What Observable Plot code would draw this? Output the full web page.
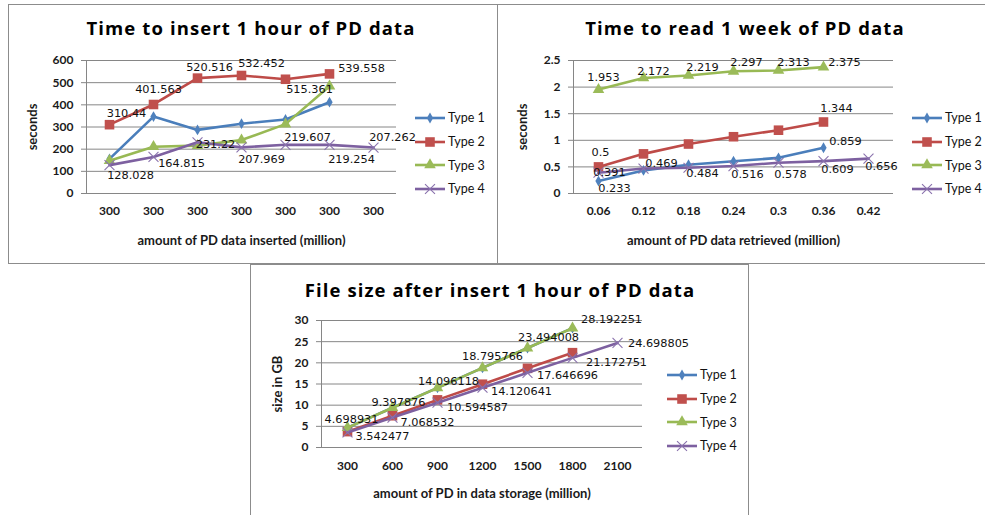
<!DOCTYPE html>
<html><head><meta charset="utf-8">
<script src="https://cdn.jsdelivr.net/npm/d3@7"></script>
<script src="https://cdn.jsdelivr.net/npm/@observablehq/plot@0.6"></script>
<style>
body{margin:0;background:#fff;}
#root{position:relative;width:985px;height:515px;overflow:hidden;background:#fff;font-family:Lato,sans-serif;}
.panel{position:absolute;border:1px solid #8c8c8c;box-sizing:border-box;}
.title{position:absolute;font-family:"Open Sans",sans-serif;font-weight:700;font-size:18.5px;letter-spacing:1.1px;color:#000;white-space:nowrap;transform:translateX(-50%);line-height:1;}
.plot{position:absolute;}
.plot svg{overflow:visible;}
.plot g[aria-label$="-axis label"]{font-size:13px;}
.legend{position:absolute;font-family:Lato,sans-serif;font-size:12.5px;color:#111;}
.legend .row{display:flex;align-items:center;height:23.7px;}
.legend svg{margin-right:3px;}
</style></head>
<body><div id="root"></div>
<script>
// ---------- data ----------
const seriesNames = ["Type 1", "Type 2", "Type 3", "Type 4"];

// Chart 1: Time to insert 1 hour of PD data
const insertX = ["300", "300", "300", "300", "300", "300", "300"];
const insertType1 = [156, 347, 287, 315, 334, 412];
const insertType2 = [310.44, 401.563, 520.516, 532.452, 515.361, 539.558];
const insertType3 = [148, 211, 216, 241, 313, 484];
const insertType4 = [128.028, 164.815, 231.22, 207.969, 219.607, 219.254, 207.262];
const insertYTicks = [0, 100, 200, 300, 400, 500, 600];

// Chart 2: Time to read 1 week of PD data
const readX = ["0.06", "0.12", "0.18", "0.24", "0.3", "0.36", "0.42"];
const readType1 = [0.233, 0.434, 0.54, 0.607, 0.67, 0.859];
const readType2 = [0.5, 0.745, 0.93, 1.067, 1.19, 1.344];
const readType3 = [1.953, 2.172, 2.219, 2.297, 2.313, 2.375];
const readType4 = [0.391, 0.469, 0.484, 0.516, 0.578, 0.609, 0.656];
const readYTicks = [0, 0.5, 1, 1.5, 2, 2.5];

// Chart 3: File size after insert 1 hour of PD data
const sizeX = ["300", "600", "900", "1200", "1500", "1800", "2100"];
const sizeType1 = [4.698931, 9.397876, 14.096118, 18.795766, 23.494008, 28.192251];
const sizeType2 = [3.75, 7.5, 11.25, 14.95, 18.7, 22.4];
const sizeType3 = [4.698931, 9.397876, 14.096118, 18.795766, 23.494008, 28.192251];
const sizeType4 = [3.542477, 7.068532, 10.594587, 14.120641, 17.646696, 21.172751, 24.698805];
const sizeYTicks = [0, 5, 10, 15, 20, 25, 30];

// which points carry a value label, and the nudge of each label from its point
const insertLabels = {
  "Type 2": {idx: [0,1,2,3,4,5], nudge: [[17,-11],[5,-15],[12,-11],[20,-12],[24,10],[32,-6]]},
  "Type 4": {idx: [0,1,2,3,4,5,6], nudge: [[21,10],[28,6],[18,2],[20,12],[22,-7],[22,14],[19,-10]]}
};
const readLabels = {
  "Type 1": {idx: [0,5], nudge: [[16,7],[22,-6]]},
  "Type 2": {idx: [0,5], nudge: [[2,-15],[13,-14]]},
  "Type 3": {idx: [0,1,2,3,4,5], nudge: [[5,-12],[10,-7],[14,-8],[13,-9],[15,-8],[21,-5]]},
  "Type 4": {idx: [0,1,2,3,4,5,6], nudge: [[11,0],[18,-5],[14,6],[14,8],[12,12],[14,8],[13,8]]}
};
const sizeLabels = {
  "Type 3": {idx: [0,1,2,3,4,5], nudge: [[4,-8],[6,-5],[11,-6],[10,-12],[21,-11],[39,-9]]},
  "Type 4": {idx: [0,1,2,3,4,5,6], nudge: [[35,4],[35,5],[40,5],[39,4],[40,3],[44,5],[41,0]]}
};

// ---------- styles ----------
const styles = {
  "Type 1": {line: "#4a7ebb", fill: "#4f81bd", symbol: "diamond", r: 3.3},
  "Type 2": {line: "#be4b48", fill: "#c0504d", symbol: "square", r: 5.4},
  "Type 3": {line: "#98b954", fill: "#9bbb59", symbol: "triangle", r: 4.3},
  "Type 4": {line: "#7d60a0", fill: "#8a72ad", symbol: "times", r: 4.6}
};
const GRID = "#868686";
const root = document.getElementById("root");

function el(tag, cls, css) {
  const e = document.createElement(tag);
  if (cls) e.className = cls;
  Object.assign(e.style, css || {});
  return e;
}

function fmt(v) { return String(v); }

function makeChart(cfg) {
  const n = cfg.xLabels.length;
  const marks = [
    Plot.gridY(cfg.yTicks, {stroke: GRID, strokeOpacity: 1, strokeWidth: 1}),
    Plot.axisY(cfg.yTicks, {
      tickSize: 5, tickPadding: 8, stroke: GRID, fill: "#1a1a1a",
      fontWeight: 700, fontSize: 12,
      tickFormat: d => fmt(d),
      label: cfg.yTitle, labelAnchor: "center", labelArrow: "none", labelOffset: cfg.yLabelOffset
    }),
    Plot.axisX(d3.range(n), {
      tickSize: 0, tickPadding: cfg.xTickPadding, fill: "#1a1a1a",
      fontWeight: 700, fontSize: 12,
      tickFormat: i => cfg.xLabels[i],
      label: cfg.xTitle, labelAnchor: "center", labelArrow: "none", labelOffset: cfg.xLabelOffset
    }),
    Plot.frame({anchor: "left", stroke: GRID})
  ];
  cfg.series.forEach((vals, k) => {
    const name = seriesNames[k];
    const s = styles[name];
    const rows = vals.map((v, i) => ({i, v}));
    marks.push(Plot.line(rows, {x: "i", y: "v", stroke: s.line, strokeWidth: 2.6}));
    if (s.symbol === "times") {
      marks.push(Plot.dot(rows, {x: "i", y: "v", symbol: "times", stroke: s.fill, strokeWidth: 1.1, r: s.r}));
    } else {
      marks.push(Plot.dot(rows, {x: "i", y: "v", symbol: s.symbol, fill: s.fill, stroke: "none", r: s.r}));
    }
  });
  // value labels
  cfg.series.forEach((vals, k) => {
    const name = seriesNames[k];
    const lab = cfg.labels[name];
    if (!lab) return;
    lab.idx.forEach((i, j) => {
      const [dx, dy] = lab.nudge[j];
      marks.push(Plot.text([{i, v: vals[i]}], {
        x: "i", y: "v", text: d => fmt(d.v), dx, dy,
        fontFamily: "DejaVu Sans", fontSize: 11.3, fill: "#111",
        textAnchor: "middle", lineAnchor: "middle"
      }));
    });
  });
  const g = cfg.geom;
  const svg = Plot.plot({
    width: g.width, height: g.height,
    marginLeft: g.ml, marginRight: g.mr, marginTop: g.mt, marginBottom: g.mb,
    style: {fontFamily: "Lato, sans-serif", fontSize: "12px", color: "#1a1a1a", background: "transparent", overflow: "visible"},
    x: {type: "point", domain: d3.range(n), padding: 0.5},
    y: {domain: [0, cfg.yTicks[cfg.yTicks.length - 1]]},
    marks
  });
  const wrap = el("div", "plot", {left: g.left + "px", top: g.top + "px"});
  wrap.appendChild(svg);
  root.appendChild(wrap);

  const t = el("div", "title", {left: cfg.titleX + "px", top: cfg.titleY + "px"});
  t.textContent = cfg.title;
  root.appendChild(t);

  const leg = el("div", "legend", {left: cfg.legend[0] + "px", top: cfg.legend[1] + "px"});
  seriesNames.forEach(name => {
    const s = styles[name];
    const row = el("div", "row");
    const sw = d3.create("svg").attr("width", 30).attr("height", 14);
    sw.append("line").attr("x1", 0).attr("x2", 30).attr("y1", 7).attr("y2", 7)
      .attr("stroke", s.line).attr("stroke-width", 2.6);
    const symMap = {diamond: d3.symbolDiamond, square: d3.symbolSquare, triangle: d3.symbolTriangle, times: d3.symbolTimes};
    const p = sw.append("path").attr("transform", "translate(15,7)")
      .attr("d", d3.symbol(symMap[s.symbol], s.r * s.r * Math.PI)());
    if (s.symbol === "times") p.attr("fill", "none").attr("stroke", s.fill).attr("stroke-width", 1.1);
    else p.attr("fill", s.fill);
    row.appendChild(sw.node());
    const tx = el("span");
    tx.textContent = name;
    row.appendChild(tx);
    leg.appendChild(row);
  });
  root.appendChild(leg);
}

// panel frames
root.appendChild(el("div", "panel", {left: "8px", top: "4px", width: "490px", height: "260px"}));
root.appendChild(el("div", "panel", {left: "497px", top: "4px", width: "500px", height: "260px"}));
root.appendChild(el("div", "panel", {left: "250px", top: "264px", width: "499px", height: "260px", background: "#fff"}));

makeChart({
  title: "Time to insert 1 hour of PD data", titleX: 251, titleY: 18.5,
  xLabels: insertX, yTicks: insertYTicks,
  series: [insertType1, insertType2, insertType3, insertType4],
  labels: insertLabels,
  xTitle: "amount of PD data inserted (million)", yTitle: "seconds",
  yLabelOffset: 59, xLabelOffset: 51, xTickPadding: 13,
  geom: {left: 8, top: 40, width: 400, height: 222, ml: 78, mr: 12, mt: 20, mb: 69},
  legend: [415, 106]
});

makeChart({
  title: "Time to read 1 week of PD data", titleX: 745, titleY: 18.5,
  xLabels: readX, yTicks: readYTicks,
  series: [readType1, readType2, readType3, readType4],
  labels: readLabels,
  xTitle: "amount of PD data retrieved (million)", yTitle: "seconds",
  yLabelOffset: 56, xLabelOffset: 51, xTickPadding: 13,
  geom: {left: 498, top: 40, width: 400, height: 222, ml: 75, mr: 5, mt: 20, mb: 69},
  legend: [912, 106]
});

makeChart({
  title: "File size after insert 1 hour of PD data", titleX: 500, titleY: 280.5,
  xLabels: sizeX, yTicks: sizeYTicks,
  series: [sizeType1, sizeType2, sizeType3, sizeType4],
  labels: sizeLabels,
  xTitle: "amount of PD in data storage (million)", yTitle: "size in GB",
  yLabelOffset: 49, xLabelOffset: 50, xTickPadding: 14,
  geom: {left: 251, top: 305, width: 400, height: 210, ml: 70, mr: 9, mt: 15, mb: 68},
  legend: [667, 363]
});
</script>
</body></html>
